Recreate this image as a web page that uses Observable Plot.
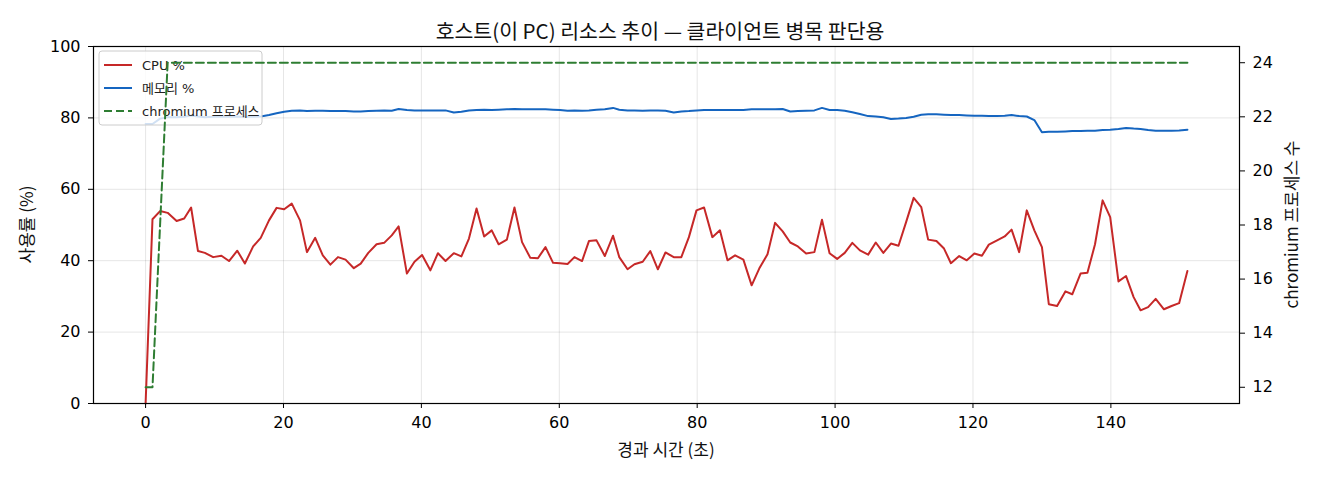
<!DOCTYPE html>
<html>
<head>
<meta charset="utf-8">
<script src="https://cdn.jsdelivr.net/npm/d3@7"></script>
<script src="https://cdn.jsdelivr.net/npm/@observablehq/plot@0.6"></script>
<style>
  body { margin: 0; background: #fff; font-family: "DejaVu Sans", "Noto Sans CJK KR", sans-serif; }
  #wrap { position: relative; width: 1320px; height: 480px; }
  #title { position: absolute; left: 0; top: 17px; width: 1320px; text-align: center;
           font-family: "Noto Sans CJK KR", sans-serif;
           font-size: 20.5px; line-height: 26px; color: #111; z-index: 2; }
  #chart svg { display: block; }
</style>
</head>
<body>
<div id="wrap">
<div id="title">호스트(이 PC) 리소스 추이 — 클라이언트 병목 판단용</div>
<div id="chart"></div>
</div>
<script>
// elapsed time (s)
const times = [
  0, 1.0, 2.1, 3.2, 4.5, 5.6, 6.6, 7.6, 8.6, 9.8,
  11.0, 12.1, 13.3, 14.4, 15.6, 16.7, 17.9, 19.0, 20.1, 21.2,
  22.4, 23.4, 24.6, 25.7, 26.8, 27.9, 29.0, 30.2, 31.2, 32.3,
  33.5, 34.6, 35.7, 36.7, 37.9, 39.0, 40.1, 41.3, 42.4, 43.5,
  44.7, 45.8, 46.9, 48.0, 49.1, 50.2, 51.2, 52.4, 53.5, 54.6,
  55.8, 56.9, 58.0, 59.1, 60.1, 61.2, 62.2, 63.3, 64.3, 65.4,
  66.6, 67.8, 68.7, 69.9, 70.9, 72.1, 73.2, 74.3, 75.4, 76.6,
  77.7, 78.8, 79.9, 81.0, 82.2, 83.3, 84.4, 85.5, 86.7, 87.9,
  89.0, 90.2, 91.3, 92.4, 93.5, 94.6, 95.8, 97.0, 98.1, 99.2,
  100.3, 101.4, 102.5, 103.6, 104.8, 105.9, 107.0, 108.1, 109.2, 110.3,
  111.4, 112.5, 113.5, 114.7, 115.8, 116.8, 118.0, 119.1, 120.2, 121.3,
  122.3, 123.5, 124.6, 125.6, 126.7, 127.8, 128.9, 130.0, 131.0, 132.2,
  133.4, 134.4, 135.6, 136.6, 137.7, 138.8, 139.9, 141.1, 142.2, 143.3,
  144.3, 145.4, 146.5, 147.7, 148.8, 149.9, 151.1
];
// CPU %
const cpu = [
  0, 51.6, 53.9, 53.4, 51.1, 51.8, 54.9, 42.7, 42.2, 41.0,
  41.4, 39.9, 42.8, 39.2, 44.0, 46.4, 51.3, 54.8, 54.4, 56.0,
  51.3, 42.4, 46.4, 41.5, 38.9, 41.0, 40.3, 37.9, 39.2, 42.2,
  44.6, 45.0, 47.1, 49.6, 36.4, 39.7, 41.6, 37.3, 42.1, 39.9,
  42.1, 41.2, 46.2, 54.6, 46.8, 48.5, 44.6, 45.9, 54.9, 45.2,
  40.8, 40.7, 43.8, 39.4, 39.3, 39.1, 41.0, 39.9, 45.5, 45.7,
  41.3, 47.0, 41.0, 37.6, 39.0, 39.7, 42.7, 37.6, 42.3, 41.0,
  41.0, 46.6, 54.1, 54.9, 46.6, 48.5, 40.1, 41.5, 40.3, 33.1,
  37.8, 41.8, 50.6, 48.2, 45.1, 44.0, 42.0, 42.4, 51.5, 42.1,
  40.5, 42.2, 45.0, 42.9, 41.7, 45.1, 42.2, 44.8, 44.2, 50.8,
  57.6, 55.0, 45.9, 45.5, 43.4, 39.3, 41.3, 40.1, 42.0, 41.4,
  44.5, 45.7, 46.8, 48.7, 42.4, 54.1, 48.5, 43.8, 27.8, 27.3,
  31.4, 30.6, 36.4, 36.6, 44.6, 56.9, 52.2, 34.2, 35.7, 29.8,
  26.1, 27.0, 29.3, 26.4, 27.3, 28.1, 37.1
];
// memory %
const memory = [
  78.3, 78.3, 79.8, 80.2, 80.2, 80.3, 80.7, 80.4, 80.2, 80.3,
  80.3, 80.3, 80.4, 80.3, 80.3, 80.4, 80.8, 81.3, 81.7, 82.0,
  82.1, 81.9, 82.0, 82.0, 81.9, 81.9, 81.9, 81.8, 81.8, 81.9,
  82.0, 82.1, 82.0, 82.5, 82.2, 82.1, 82.1, 82.1, 82.1, 82.1,
  81.5, 81.7, 82.1, 82.2, 82.3, 82.2, 82.3, 82.4, 82.5, 82.4,
  82.4, 82.4, 82.4, 82.3, 82.2, 82.0, 82.1, 82.0, 82.1, 82.3,
  82.4, 82.8, 82.3, 82.1, 82.1, 82.0, 82.1, 82.1, 82.0, 81.5,
  81.8, 81.9, 82.1, 82.2, 82.2, 82.2, 82.2, 82.2, 82.2, 82.4,
  82.4, 82.4, 82.4, 82.5, 81.8, 81.9, 82.0, 82.1, 82.8, 82.2,
  82.2, 82.0, 81.6, 81.1, 80.5, 80.4, 80.2, 79.7, 79.8, 80.0,
  80.3, 80.9, 81.0, 81.0, 80.9, 80.8, 80.8, 80.7, 80.6, 80.6,
  80.5, 80.5, 80.6, 80.8, 80.5, 80.4, 79.4, 76.0, 76.1, 76.1,
  76.2, 76.3, 76.3, 76.4, 76.4, 76.6, 76.7, 76.9, 77.2, 77.0,
  76.9, 76.6, 76.4, 76.4, 76.4, 76.5, 76.7
];
// chromium process count (right axis)
const chromium = [
  12, 12, 18, 24, 24, 24, 24, 24, 24, 24,
  24, 24, 24, 24, 24, 24, 24, 24, 24, 24,
  24, 24, 24, 24, 24, 24, 24, 24, 24, 24,
  24, 24, 24, 24, 24, 24, 24, 24, 24, 24,
  24, 24, 24, 24, 24, 24, 24, 24, 24, 24,
  24, 24, 24, 24, 24, 24, 24, 24, 24, 24,
  24, 24, 24, 24, 24, 24, 24, 24, 24, 24,
  24, 24, 24, 24, 24, 24, 24, 24, 24, 24,
  24, 24, 24, 24, 24, 24, 24, 24, 24, 24,
  24, 24, 24, 24, 24, 24, 24, 24, 24, 24,
  24, 24, 24, 24, 24, 24, 24, 24, 24, 24,
  24, 24, 24, 24, 24, 24, 24, 24, 24, 24,
  24, 24, 24, 24, 24, 24, 24, 24, 24, 24,
  24, 24, 24, 24, 24, 24, 24
];

const xTicks = [0, 20, 40, 60, 80, 100, 120, 140];
const yTicks = [0, 20, 40, 60, 80, 100];
const rightTicks = [12, 14, 16, 18, 20, 22, 24];
const legendLabels = ["CPU %", "메모리 %", "chromium 프로세스"];
const colors = ["#c62828", "#1565c0", "#2e7d32"];
const xLabel = "경과 시간 (초)";
const yLabel = "사용률 (%)";
const rLabel = "chromium 프로세스 수";

// axis extents (matplotlib-like 5% margins)
const xDomain = [-7.555, 158.655];
const yDomain = [0, 100];
const rDomain = [11.4, 24.6];
const toLeft = v => (v - rDomain[0]) / (rDomain[1] - rDomain[0]) * 100;
const fromLeft = d => d / 100 * (rDomain[1] - rDomain[0]) + rDomain[0];

const data = times.map((t, i) => ({t, cpu: cpu[i], mem: memory[i], chr: toLeft(chromium[i])}));

function legend(index, scales, values, dims) {
  const g = d3.create("svg:g")
    .attr("transform", `translate(${dims.marginLeft + 6},${dims.marginTop + 5})`);
  g.append("rect").attr("width", 163).attr("height", 74).attr("rx", 3)
    .attr("fill", "white").attr("fill-opacity", 0.8).attr("stroke", "#cccccc");
  legendLabels.forEach((lab, i) => {
    const y = 14 + i * 23;
    g.append("line").attr("x1", 5).attr("x2", 33).attr("y1", y).attr("y2", y)
      .attr("stroke", colors[i]).attr("stroke-width", 2)
      .attr("stroke-dasharray", i === 2 ? "8,4" : null);
    g.append("text").attr("x", 43).attr("y", y).attr("dy", "0.35em")
      .attr("text-anchor", "start")
      .attr("font-size", 13).attr("fill", "#222").text(lab);
  });
  return g.node();
}

function axisLabels(index, scales, values, dims) {
  const {width, height, marginLeft, marginRight, marginTop, marginBottom} = dims;
  const cx = marginLeft + (width - marginLeft - marginRight) / 2;
  const cy = marginTop + (height - marginTop - marginBottom) / 2;
  const g = d3.create("svg:g")
    .attr("font-family", '"Noto Sans CJK KR", sans-serif')
    .attr("font-size", 17).attr("fill", "#111").attr("text-anchor", "middle");
  g.append("text").attr("x", cx).attr("y", height - marginBottom + 47).attr("dy", "0.35em").text(xLabel);
  g.append("text").attr("transform", `translate(${marginLeft - 66},${cy}) rotate(-90)`).attr("dy", "0.35em").text(yLabel);
  g.append("text").attr("transform", `translate(${width - marginRight + 53},${cy}) rotate(-90)`).attr("dy", "0.35em").text(rLabel);
  return g.node();
}

const chart = Plot.plot({
  width: 1320,
  height: 480,
  marginLeft: 93,
  marginRight: 81,
  marginTop: 46,
  marginBottom: 77,
  style: {fontFamily: '"DejaVu Sans", "Noto Sans CJK KR", sans-serif', fontSize: "16px", color: "#000", background: "white"},
  x: {domain: xDomain},
  y: {domain: yDomain},
  marks: [
    Plot.gridX(xTicks, {stroke: "#000", strokeOpacity: 0.1}),
    Plot.gridY(yTicks, {stroke: "#000", strokeOpacity: 0.1}),
    Plot.lineY(data, {x: "t", y: "cpu", stroke: colors[0], strokeWidth: 2}),
    Plot.lineY(data, {x: "t", y: "mem", stroke: colors[1], strokeWidth: 2}),
    legend,
    Plot.lineY(data, {x: "t", y: "chr", stroke: colors[2], strokeWidth: 2, strokeDasharray: "8,4"}),
    Plot.frame({stroke: "#000", strokeWidth: 1.2}),
    Plot.axisX(xTicks, {tickSize: 5, tickPadding: 8, fontSize: 16, label: null}),
    Plot.axisY(yTicks, {anchor: "left", tickSize: 5, tickPadding: 8, fontSize: 16, label: null}),
    Plot.axisY(rightTicks.map(toLeft), {anchor: "right", tickSize: 5, tickPadding: 8, fontSize: 16,
      tickFormat: d => String(Math.round(fromLeft(d))), label: null}),
    axisLabels
  ]
});
document.getElementById("chart").appendChild(chart);
</script>
</body>
</html>
